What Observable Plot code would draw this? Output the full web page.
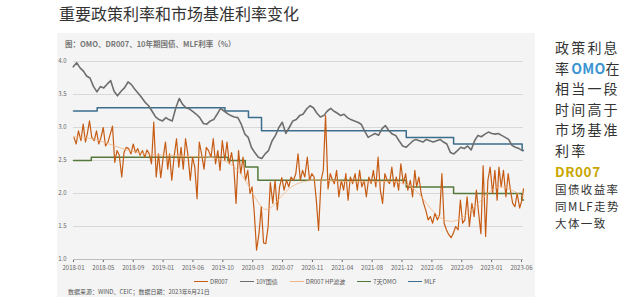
<!DOCTYPE html>
<html><head><meta charset="utf-8">
<script src="https://cdn.jsdelivr.net/npm/d3@7"></script>
<script src="https://cdn.jsdelivr.net/npm/@observablehq/plot@0.6"></script>
<style>
body{margin:0;background:#fff;font-family:"Noto Sans CJK SC","Noto Sans",sans-serif;width:640px;height:297px;overflow:hidden;position:relative}
#title{position:absolute;left:59px;top:1px;font-size:16px;color:#333;white-space:nowrap}
#panel{position:absolute;left:57px;top:33px;width:478px;height:264px;background:#f4f4f4}
#sub{position:absolute;left:8px;top:5px;font-size:7.5px;font-weight:bold;color:#777;white-space:nowrap}
#chart{position:absolute;left:0;top:19px}
#legend{position:absolute;top:244px;left:137px;font-size:6px;color:#555;display:flex;align-items:center;white-space:nowrap}
#legend .it{display:flex;align-items:center;margin-right:12px}
#legend .sw{display:inline-block;width:14px;height:1.5px;margin-right:2px}
#src{position:absolute;left:11px;top:254px;font-size:6px;color:#555;white-space:nowrap}
#side{position:absolute;left:555px;top:37px;color:#333;white-space:nowrap}
#side .big{font-size:14px;line-height:20.6px;letter-spacing:2.2px}
#side .omo{color:#3a94d2;font-weight:bold;letter-spacing:0.3px}
#side .dr{font-size:13.5px;line-height:20px;font-weight:bold;color:#c9a600;letter-spacing:0.6px}
#side .sm{font-size:11.5px;line-height:17px;letter-spacing:1.4px}
</style></head>
<body>
<div id="title">重要政策利率和市场基准利率变化</div>
<div id="panel">
  <div id="sub">图：OMO、DR007、10年期国债、MLF利率（%）</div>
  <div id="chart"></div>
  <div id="legend"></div>
  <div id="src">数据来源：WIND、CEIC；数据日期：2023年6月21日</div>
</div>
<div id="side">
  <div class="big">政策利息</div>
  <div class="big">率<span class="omo">OMO</span>在</div>
  <div class="big">相当一段</div>
  <div class="big">时间高于</div>
  <div class="big">市场基准</div>
  <div class="big">利率</div>
  <div class="dr">DR007</div>
  <div class="sm">国债收益率</div>
  <div class="sm">同MLF走势</div>
  <div class="sm">大体一致</div>
</div>
<script>
// ---- data ----
const startYear = 2018;
const endDate = new Date(Date.UTC(2023, 5, 21));
// DR007, three readings per month (early / mid / late), Jan 2018 – Jun 2023
const dr007_2018 = [2.85,2.75,2.95, 2.80,3.05,2.78, 2.90,3.10,2.85, 2.80,2.95,2.75, 2.85,3.00,2.72, 2.78,2.90,3.02,
                    2.47,2.65,2.58, 2.25,2.62,2.70, 2.68,2.60,2.75, 2.62,2.68,2.58, 2.65,2.55,2.66, 2.60,2.45,3.08];
const dr007_2019 = [2.25,2.60,2.24, 2.55,2.78,2.37, 2.60,2.20,2.55, 2.83,2.40,2.70, 2.37,2.83,2.60, 2.20,2.55,2.40,
                    1.92,2.78,2.60, 2.37,2.70,2.65, 2.55,2.83,2.45, 2.65,2.35,2.80, 2.50,2.78,2.45, 2.62,2.40,1.85];
const dr007_2020 = [2.65,2.30,2.55, 2.20,2.35,2.00, 2.10,1.70,1.14, 1.40,1.80,1.25, 1.24,1.49,2.17, 1.85,2.20,1.75,
                    2.10,2.24,2.05, 2.20,2.10,2.25, 2.20,2.30,2.60, 2.20,2.35,2.25, 2.55,2.20,2.30, 2.25,1.90,1.44];
const dr007_2021 = [2.20,2.35,3.18, 2.07,2.30,2.20, 2.15,2.35,1.95, 2.20,2.05,2.30, 1.90,2.25,2.15, 2.30,2.05,2.35,
                    2.10,2.20,1.95, 2.25,2.15,2.35, 2.10,2.55,2.05, 1.85,2.30,2.20, 2.15,2.40,2.10, 2.25,2.05,2.45];
const dr007_2022 = [2.15,2.30,2.05, 2.20,1.95,2.35, 2.10,2.25,2.00, 1.85,1.74,1.60, 1.65,1.55,1.70, 1.60,1.68,2.30,
                    1.55,1.45,1.38, 1.33,1.40,1.50, 1.45,1.90,1.55, 1.60,1.95,1.50, 1.85,1.65,2.05, 1.70,1.39,2.42];
const dr007_2023 = [1.35,2.20,2.40, 2.00,2.35,1.90, 2.40,2.10,2.35, 1.95,2.30,2.05, 1.85,1.80,2.00, 1.78,1.90,2.07];
const drSlotDays = [4, 14, 24];

// 10Y government bond yield, two readings per month
const y10_2018 = [3.92,3.98, 3.90,3.85, 3.78,3.75, 3.62,3.54, 3.62,3.60, 3.66,3.71, 3.55,3.48, 3.55,3.60, 3.69,3.65, 3.58,3.52, 3.45,3.38, 3.33,3.25];
const y10_2019 = [3.16,3.12, 3.10,3.15, 3.12,3.10, 3.30,3.44, 3.35,3.30, 3.28,3.24, 3.20,3.15, 3.06,3.05, 3.10,3.12, 3.20,3.29, 3.25,3.21, 3.18,3.16];
const y10_2020 = [3.15,3.05, 2.90,2.85, 2.70,2.62, 2.55,2.53, 2.60,2.65, 2.80,2.88, 3.00,3.08, 2.91,3.00, 3.10,3.12, 3.18,3.20, 3.28,3.33, 3.30,3.22];
const y10_2021 = [3.16,3.18, 3.25,3.29, 3.25,3.22, 3.18,3.20, 3.15,3.12, 3.10,3.08, 3.05,2.95, 2.85,2.88, 2.91,2.88, 2.98,3.03, 2.95,2.90, 2.88,2.80];
const y10_2022 = [2.72,2.70, 2.75,2.80, 2.82,2.80, 2.78,2.82, 2.80,2.78, 2.80,2.82, 2.78,2.75, 2.62,2.60, 2.65,2.70, 2.68,2.72, 2.66,2.80, 2.88,2.86];
const y10_2023 = [2.90,2.93, 2.91,2.90, 2.91,2.88, 2.85,2.82, 2.73,2.70, 2.68,2.65];
const y10SlotDays = [1, 16];

// DR007 HP filter trend
const hpDates  = ["2018-01-02","2018-04-01","2018-07-01","2018-10-01","2019-01-01","2019-04-01","2019-07-01","2019-10-01","2020-01-01","2020-03-01","2020-05-01","2020-07-01","2020-09-01","2020-12-01","2021-04-01","2021-08-01","2021-12-01","2022-03-01","2022-05-01","2022-08-01","2022-11-01","2023-02-01","2023-04-01","2023-06-21"];
const hpValues = [2.86,2.84,2.72,2.62,2.58,2.58,2.55,2.56,2.40,2.05,1.65,1.92,2.15,2.22,2.18,2.17,2.20,2.10,1.75,1.50,1.72,2.10,2.12,1.95];

// MLF (1Y) rate steps
const mlfDates  = ["2018-01-02","2018-04-17","2019-11-05","2020-02-17","2020-04-15","2022-01-17","2022-08-15","2023-06-15","2023-06-21"];
const mlfValues = [3.25,3.30,3.25,3.15,2.95,2.85,2.75,2.65,2.65];

// 7-day OMO rate steps
const omoDates  = ["2018-01-02","2018-03-22","2019-11-18","2020-02-03","2020-03-30","2022-01-17","2022-08-15","2023-06-13","2023-06-21"];
const omoValues = [2.50,2.55,2.50,2.40,2.20,2.10,2.00,1.90,1.90];

// axis tick labels
const xTickLabels = ["2018-01","2018-05","2018-09","2019-01","2019-06","2019-10","2020-03","2020-07","2020-11","2021-04","2021-08","2021-12","2022-05","2022-09","2023-01","2023-06"];
const firstTick = "2018-01-02", lastTick = "2023-06-12";
const yTicks = [1.0,1.5,2.0,2.5,3.0,3.5,4.0];

// series meta
const seriesNames  = ["DR007","10Y国债","DR007 HP滤波","7天OMO","MLF"];
const seriesColors = ["#c65c14","#6e6e6e","#f2b585","#55793a","#3b6e8c"];

// ---- build tables ----
function monthly(yearArrays, slotDays) {
  const out = [];
  yearArrays.forEach((arr, yi) => {
    const per = slotDays.length;
    arr.forEach((v, i) => {
      const m = Math.floor(i / per), s = i % per;
      let d = new Date(Date.UTC(startYear + yi, m, slotDays[s]));
      if (d > endDate) d = endDate;
      out.push({date: d, value: v});
    });
  });
  return out;
}
const dr = monthly([dr007_2018,dr007_2019,dr007_2020,dr007_2021,dr007_2022,dr007_2023], drSlotDays);
const y10 = monthly([y10_2018,y10_2019,y10_2020,y10_2021,y10_2022,y10_2023], y10SlotDays);
const parse = d3.utcParse("%Y-%m-%d");
const hp  = hpDates.map((d,i)=>({date: parse(d), value: hpValues[i]}));
const mlf = mlfDates.map((d,i)=>({date: parse(d), value: mlfValues[i]}));
const omo = omoDates.map((d,i)=>({date: parse(d), value: omoValues[i]}));

const tickPos = d3.scaleLinear().domain([0, xTickLabels.length-1]).range([parse(firstTick), parse(lastTick)]);
const xTicks = xTickLabels.map((_, i) => new Date(tickPos(i)));
const labelOf = new Map(xTicks.map((t, i) => [+t, xTickLabels[i]]));

const chart = Plot.plot({
  width: 478, height: 222,
  marginLeft: 16, marginRight: 12, marginTop: 9, marginBottom: 15,
  style: {background: "transparent", fontFamily: "'Noto Sans CJK SC','Noto Sans',sans-serif", fontSize: "6px", color: "#666"},
  x: {type: "utc", domain: [parse("2018-01-02"), endDate], ticks: xTicks, tickFormat: d => labelOf.get(+d) ?? "", tickSize: 3, tickPadding: 3.5, label: null},
  y: {domain: [1, 4], ticks: yTicks, tickFormat: d3.format(".1f"), tickSize: 0, tickPadding: 7, label: null, grid: true},
  marks: [
    Plot.gridY(yTicks, {stroke: "#d8d8d8", strokeOpacity: 1}),
    Plot.ruleY([1], {stroke: "#bdbdbd"}),
    Plot.line(mlf, {x: "date", y: "value", curve: "step-after", stroke: seriesColors[4], strokeWidth: 1.5}),
    Plot.line(y10, {x: "date", y: "value", stroke: seriesColors[1], strokeWidth: 1.6}),
    Plot.line(omo, {x: "date", y: "value", curve: "step-after", stroke: seriesColors[3], strokeWidth: 1.5}),
    Plot.line(dr, {x: "date", y: "value", stroke: seriesColors[0], strokeWidth: 1.2}),
    Plot.line(hp, {x: "date", y: "value", curve: "basis", stroke: seriesColors[2], strokeWidth: 0.8})
  ]
});
document.getElementById("chart").appendChild(chart);

const lg = document.getElementById("legend");
seriesNames.forEach((n, i) => {
  const it = document.createElement("div"); it.className = "it";
  const sw = document.createElement("span"); sw.className = "sw"; sw.style.background = seriesColors[i];
  it.appendChild(sw); it.appendChild(document.createTextNode(n));
  lg.appendChild(it);
});
</script>
</body></html>
